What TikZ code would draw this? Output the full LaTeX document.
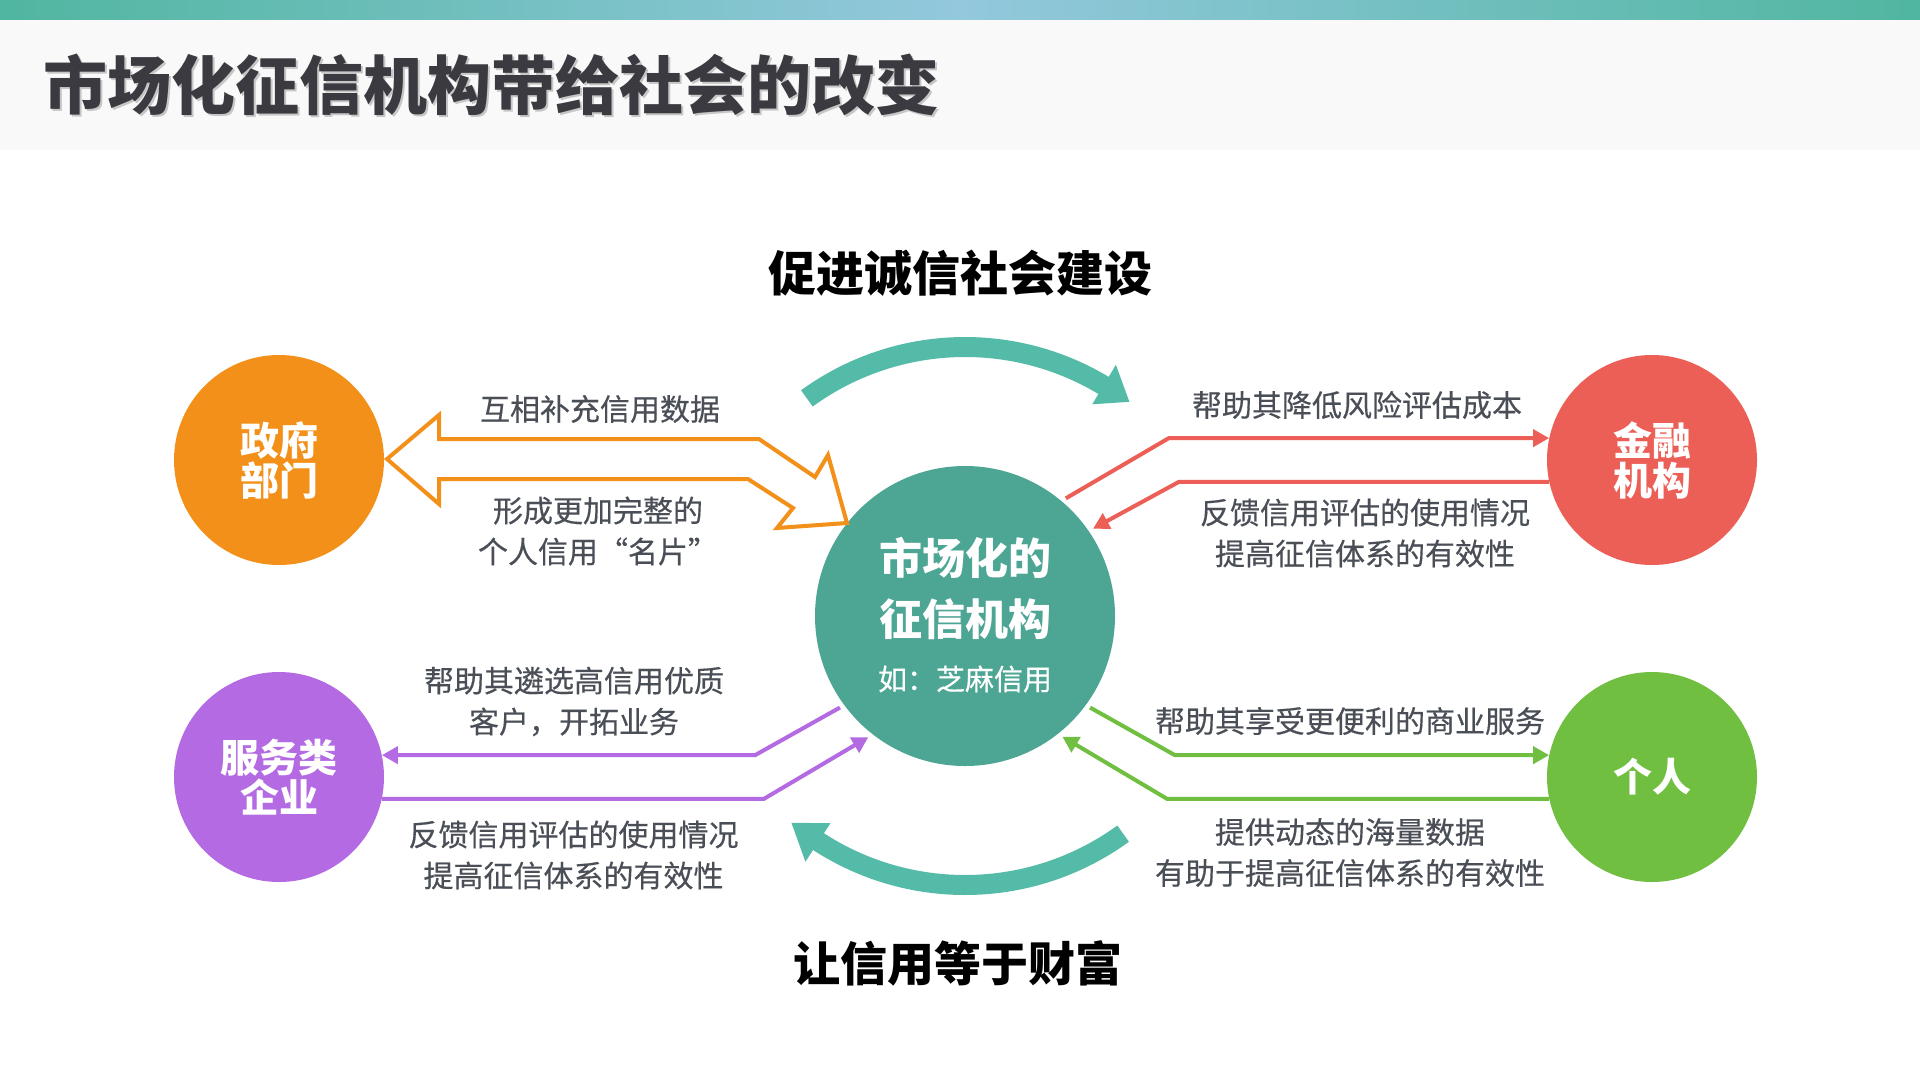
\documentclass[tikz,border=0pt]{standalone}
\usepackage{fontspec}
\setmainfont{Noto Sans CJK SC}
\newfontfamily\lblfont{Noto Sans CJK SC}[FakeBold=0.4]
\usetikzlibrary{arrows.meta,calc}
\definecolor{teal0}{HTML}{4DA594}
\definecolor{arcc}{HTML}{55BBA9}
\definecolor{orng}{HTML}{F39019}
\definecolor{redc}{HTML}{EC5F57}
\definecolor{purp}{HTML}{B36AE2}
\definecolor{grn}{HTML}{70BF40}
\definecolor{txt}{HTML}{4A4F57}
\definecolor{ttl}{HTML}{3A3A40}
\definecolor{barl}{HTML}{50B6A0}
\definecolor{barm}{HTML}{93C8DD}
\definecolor{hdr}{HTML}{F9F9F9}
\begin{document}
\begin{tikzpicture}[x=1pt,y=1pt,
  lbl/.style={text=txt, font=\lblfont\fontsize{30}{41}\selectfont, align=center, inner sep=0},
  circ/.style={circle, minimum size=210pt, inner sep=0, text=white, font=\bfseries\fontsize{39}{40}\selectfont, align=center},
  conn/.style={line width=4pt},
  tipped/.style={-{Triangle[length=16pt,width=17pt]}},
  bigarc/.style={line width=20pt, draw=arcc},
  heading/.style={text=black, font=\bfseries\fontsize{48}{48}\selectfont, inner sep=0}]
\fill[white] (0,0) rectangle (1920,-1080);
\useasboundingbox (0,0) rectangle (1920,-1080);
% header
\shade[left color=barl, right color=barl, middle color=barm] (0,0) rectangle (1920,-20);
\fill[hdr] (0,-20) rectangle (1920,-150);
\node[anchor=west, text=gray!45, font=\bfseries\fontsize{64}{64}\selectfont, inner sep=0] (titleshadow) at (45,-87) {市场化征信机构带给社会的改变};
\node[anchor=west, text=ttl, font=\bfseries\fontsize{64}{64}\selectfont, inner sep=0] (title) at (43,-85) {市场化征信机构带给社会的改变};
% circles
\node[circ, fill=orng] (gov) at (279,-460) {政府\\部门};
\node[circ, fill=redc] (fin) at (1652,-460) {金融\\机构};
\node[circ, fill=purp] (svc) at (279,-777) {服务类\\企业};
\node[circ, fill=grn] (per) at (1652,-777) {个人};
\node[circle, minimum size=300pt, inner sep=0, fill=teal0] (ctr) at (965,-616) {};
\node[text=white, font=\bfseries\fontsize{43}{43}\selectfont, inner sep=0] (c1) at (965,-558) {市场化的};
\node[text=white, font=\bfseries\fontsize{43}{43}\selectfont, inner sep=0] (c2) at (965,-619) {征信机构};
\node[text=white, font=\lblfont\fontsize{29}{29}\selectfont, inner sep=0] (c3) at (965,-679) {如：芝麻信用};
% headings
\node[heading] (h1) at (960,-273) {促进诚信社会建设};
\node[heading, font=\bfseries\fontsize{47}{47}\selectfont] (h2) at (958,-963) {让信用等于财富};
% big arcs
\draw[bigarc] ($(ctr)+(126:269)$) arc[start angle=126, end angle=58, radius=269];
\fill[arcc] ($(ctr)+(59:247)$) -- ($(ctr)+(59:293)$) -- ($(ctr)+(52.5:270)$) -- cycle;
\draw[bigarc] ($(ctr)+(-54:269)$) arc[start angle=-54, end angle=-124, radius=269];
\fill[arcc] ($(ctr)+(-123:247)$) -- ($(ctr)+(-123:293)$) -- ($(ctr)+(-130:270)$) -- cycle;
% orange hollow double arrow
\draw[orng, line width=4pt, line join=miter]
  (387,-459) -- (439,-415) -- (439,-439) -- (759,-439) -- (815,-477) -- (828,-455)
  -- (847,-523) -- (777,-528) -- (793,-508) -- (748,-479) -- (439,-479) -- (439,-504) -- cycle;
\node[lbl] (o1) at (600,-409) {互相补充信用数据};
\node[lbl] (o2) at (598,-531) {形成更加完整的\\个人信用“名片”};
% red
\draw[conn, redc, tipped] ($(ctr)+(49.4:155)$) -- (1169,-438) -- (fin.168);
\draw[conn, redc, tipped] (fin.192) -- (1179,-481.8) -- ($(ctr)+(34.3:155)$);
\node[lbl] (r1) at (1357,-405) {帮助其降低风险评估成本};
\node[lbl] (r2) at (1365,-533) {反馈信用评估的使用情况\\提高征信体系的有效性};
% purple
\draw[conn, purp, tipped] ($(ctr)+(216.2:155)$) -- (755,-755.2) -- (svc.12);
\draw[conn, purp, tipped] (svc.-12) -- (764,-798.8) -- ($(ctr)+(231.4:155)$);
\node[lbl] (p1) at (574,-701.5) {帮助其遴选高信用优质\\客户，开拓业务};
\node[lbl] (p2) at (573.5,-855) {反馈信用评估的使用情况\\提高征信体系的有效性};
% green
\draw[conn, grn, tipped] ($(ctr)+(-36.2:155)$) -- (1175,-755.2) -- (per.168);
\draw[conn, grn, tipped] (per.192) -- (1167,-798.8) -- ($(ctr)+(-51.1:155)$);
\node[lbl] (g1) at (1350,-721) {帮助其享受更便利的商业服务};
\node[lbl] (g2) at (1350,-852.5) {提供动态的海量数据\\有助于提高征信体系的有效性};
\end{tikzpicture}
\end{document}
